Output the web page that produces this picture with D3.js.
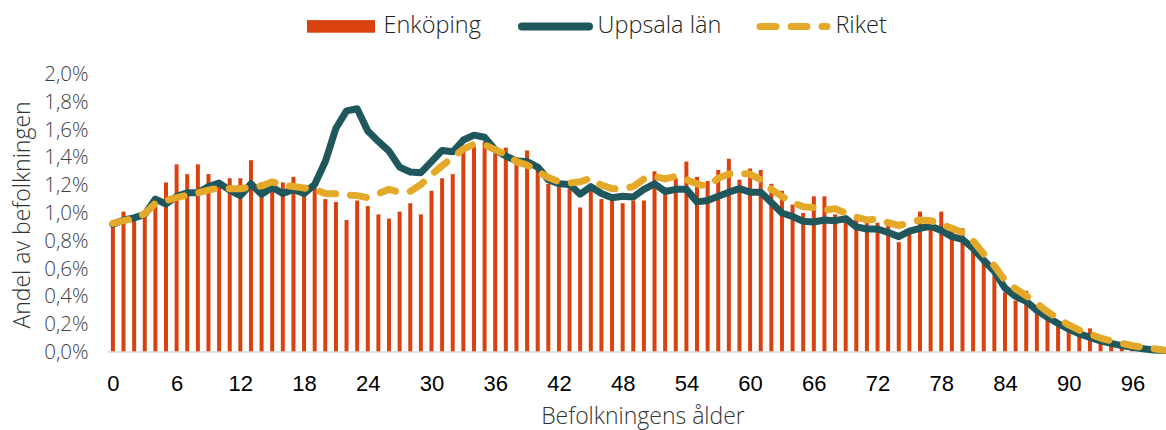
<!DOCTYPE html>
<html>
<head>
<meta charset="utf-8">
<script src="https://cdn.jsdelivr.net/npm/d3@7"></script>
<style>
  html, body { margin: 0; padding: 0; background: #ffffff; }
  svg { display: block; }
</style>
</head>
<body>
<svg id="chart" width="1166" height="430"></svg>
<script>
// ---- data (andel av befolkningen, %) ----
const ages = d3.range(0, 100);
const xTickValues = [0, 6, 12, 18, 24, 30, 36, 42, 48, 54, 60, 66, 72, 78, 84, 90, 96];
const yTickValues = [0, 0.2, 0.4, 0.6, 0.8, 1.0, 1.2, 1.4, 1.6, 1.8, 2.0];
const seriesNames = ["Enköping", "Uppsala län", "Riket"];

const enkoping = [
  0.90, 1.01, 0.95, 0.97, 1.05, 1.22, 1.35, 1.28, 1.35, 1.28,
  1.19, 1.25, 1.25, 1.38, 1.22, 1.21, 1.22, 1.26, 1.18, 1.18,
  1.10, 1.08, 0.95, 1.09, 1.05, 0.99, 0.96, 1.01, 1.07, 0.99,
  1.16, 1.25, 1.28, 1.45, 1.48, 1.51, 1.43, 1.47, 1.40, 1.45,
  1.32, 1.21, 1.19, 1.20, 1.04, 1.16, 1.10, 1.09, 1.07, 1.09,
  1.09, 1.30, 1.15, 1.25, 1.37, 1.26, 1.23, 1.31, 1.39, 1.24,
  1.32, 1.31, 1.21, 1.16, 1.06, 1.00, 1.12, 1.12, 0.99, 0.97,
  0.97, 0.93, 0.93, 0.92, 0.79, 0.85, 1.01, 0.91, 1.01, 0.87,
  0.89, 0.73, 0.64, 0.55, 0.43, 0.37, 0.44, 0.29, 0.31, 0.19,
  0.16, 0.13, 0.17, 0.10, 0.07, 0.04, 0.03, 0.015, 0.01, 0.005
];

const uppsala = [
  0.92, 0.95, 0.965, 0.99, 1.10, 1.065, 1.12, 1.146, 1.146, 1.19,
  1.215, 1.165, 1.125, 1.21, 1.135, 1.185, 1.14, 1.17, 1.14, 1.205,
  1.37, 1.61, 1.735, 1.75, 1.59, 1.515, 1.445, 1.33, 1.295, 1.29,
  1.37, 1.45, 1.44, 1.525, 1.56, 1.545, 1.455, 1.41, 1.375, 1.37,
  1.33, 1.24, 1.21, 1.205, 1.135, 1.19, 1.14, 1.11, 1.12, 1.115,
  1.17, 1.21, 1.155, 1.17, 1.17, 1.08, 1.09, 1.12, 1.15, 1.175,
  1.15, 1.15, 1.075, 1.00, 0.975, 0.94, 0.935, 0.95, 0.945, 0.96,
  0.90, 0.885, 0.885, 0.86, 0.83, 0.87, 0.89, 0.905, 0.875, 0.83,
  0.81, 0.745, 0.66, 0.58, 0.46, 0.40, 0.365, 0.30, 0.25, 0.205,
  0.165, 0.13, 0.105, 0.08, 0.062, 0.046, 0.034, 0.024, 0.015, 0.01
];

const riket = [
  0.925, 0.945, 0.96, 0.995, 1.07, 1.09, 1.11, 1.13, 1.145, 1.165,
  1.18, 1.175, 1.175, 1.185, 1.195, 1.225, 1.20, 1.19, 1.18, 1.17,
  1.14, 1.138, 1.13, 1.125, 1.11, 1.14, 1.17, 1.15, 1.155, 1.205,
  1.275, 1.34, 1.40, 1.46, 1.495, 1.49, 1.455, 1.42, 1.37, 1.345,
  1.30, 1.255, 1.225, 1.215, 1.225, 1.25, 1.20, 1.175, 1.175, 1.19,
  1.245, 1.265, 1.245, 1.265, 1.24, 1.21, 1.19, 1.25, 1.28, 1.285,
  1.28, 1.24, 1.17, 1.12, 1.075, 1.045, 1.04, 1.02, 1.03, 1.00,
  0.97, 0.95, 0.955, 0.93, 0.91, 0.93, 0.95, 0.945, 0.92, 0.89,
  0.86, 0.80, 0.705, 0.62, 0.515, 0.455, 0.405, 0.35, 0.29, 0.24,
  0.195, 0.157, 0.13, 0.10, 0.08, 0.062, 0.045, 0.033, 0.024, 0.012
];

// ---- styling ----
const colBar = "#D9410F";
const colUpp = "#1F575C";
const colRik = "#E5A92A";
const lightFont = "'Open Sans', Lato, sans-serif";

const svg = d3.select("#chart");

const plotLeft = 107.6, plotRight = 1166, plotTop = 74, plotBottom = 352;
const x = d3.scaleLinear().domain([0, 99]).range([112.9, 112.9 + 99 * 10.62]);
const y = d3.scaleLinear().domain([0, 2]).range([plotBottom, plotTop]);
const barW = 4;

// bars
svg.append("g").selectAll("rect")
  .data(ages)
  .join("rect")
  .attr("x", d => x(d) - barW / 2)
  .attr("y", d => y(enkoping[d]))
  .attr("width", barW)
  .attr("height", d => y(0) - y(enkoping[d]))
  .attr("fill", colBar);

// baseline
svg.append("line")
  .attr("x1", plotLeft).attr("x2", plotRight)
  .attr("y1", y(0)).attr("y2", y(0))
  .attr("stroke", "#d9d9d9").attr("stroke-width", 1.5);

// lines
const lineGen = arr => d3.line().x(d => x(d)).y(d => y(arr[d]))(ages);

svg.append("path")
  .attr("d", lineGen(uppsala))
  .attr("fill", "none")
  .attr("stroke", colUpp)
  .attr("stroke-width", 7)
  .attr("stroke-linejoin", "round")
  .attr("stroke-linecap", "round");

svg.append("path")
  .attr("d", lineGen(riket))
  .attr("fill", "none")
  .attr("stroke", colRik)
  .attr("stroke-width", 7)
  .attr("stroke-dasharray", "16,15")
  .attr("stroke-linejoin", "round")
  .attr("stroke-linecap", "round");

// x axis
const xAxis = svg.append("g")
  .attr("transform", `translate(0,${plotBottom})`)
  .call(d3.axisBottom(x).tickValues(xTickValues).tickSize(0).tickPadding(23).tickFormat(d3.format("d")));
xAxis.select(".domain").remove();
xAxis.selectAll("text")
  .attr("font-family", "'Liberation Sans', Arial, sans-serif")
  .attr("font-size", 22)
  .attr("fill", "#000");

// y axis
const fmt = d => d3.format(".1f")(d).replace(".", ",") + "%";
const yAxis = svg.append("g")
  .attr("transform", `translate(${plotLeft},0)`)
  .call(d3.axisLeft(y).tickValues(yTickValues).tickSize(0).tickPadding(19).tickFormat(fmt));
yAxis.select(".domain").remove();
yAxis.selectAll("text")
  .attr("font-family", lightFont)
  .attr("font-weight", 300)
  .attr("font-size", 20.5)
  .attr("fill", "#404040");

// axis titles
svg.append("text")
  .attr("transform", "translate(30,215) rotate(-90)")
  .attr("text-anchor", "middle")
  .attr("font-family", lightFont)
  .attr("font-weight", 300)
  .attr("font-size", 23)
  .attr("fill", "#333")
  .text("Andel av befolkningen");

svg.append("text")
  .attr("x", 643).attr("y", 424)
  .attr("text-anchor", "middle")
  .attr("font-family", lightFont)
  .attr("font-weight", 300)
  .attr("font-size", 23)
  .attr("fill", "#333")
  .text("Befolkningens ålder");

// legend
const lg = svg.append("g");
const ly = 26.4;
lg.append("rect").attr("x", 307).attr("y", ly - 6.3).attr("width", 68).attr("height", 12.6).attr("fill", colBar);
lg.append("line").attr("x1", 522).attr("x2", 589).attr("y1", ly).attr("y2", ly)
  .attr("stroke", colUpp).attr("stroke-width", 8).attr("stroke-linecap", "round");
lg.append("line").attr("x1", 760).attr("x2", 827).attr("y1", ly).attr("y2", ly)
  .attr("stroke", colRik).attr("stroke-width", 7).attr("stroke-linecap", "round")
  .attr("stroke-dasharray", "16,15");
const legTextX = [383.5, 597.5, 835.4];
lg.selectAll("text.leg")
  .data(seriesNames)
  .join("text")
  .attr("class", "leg")
  .attr("x", (d, i) => legTextX[i])
  .attr("y", 33.3)
  .attr("font-family", lightFont)
  .attr("font-weight", 300)
  .attr("font-size", 23.5)
  .attr("fill", "#222")
  .text(d => d);
</script>
</body>
</html>
